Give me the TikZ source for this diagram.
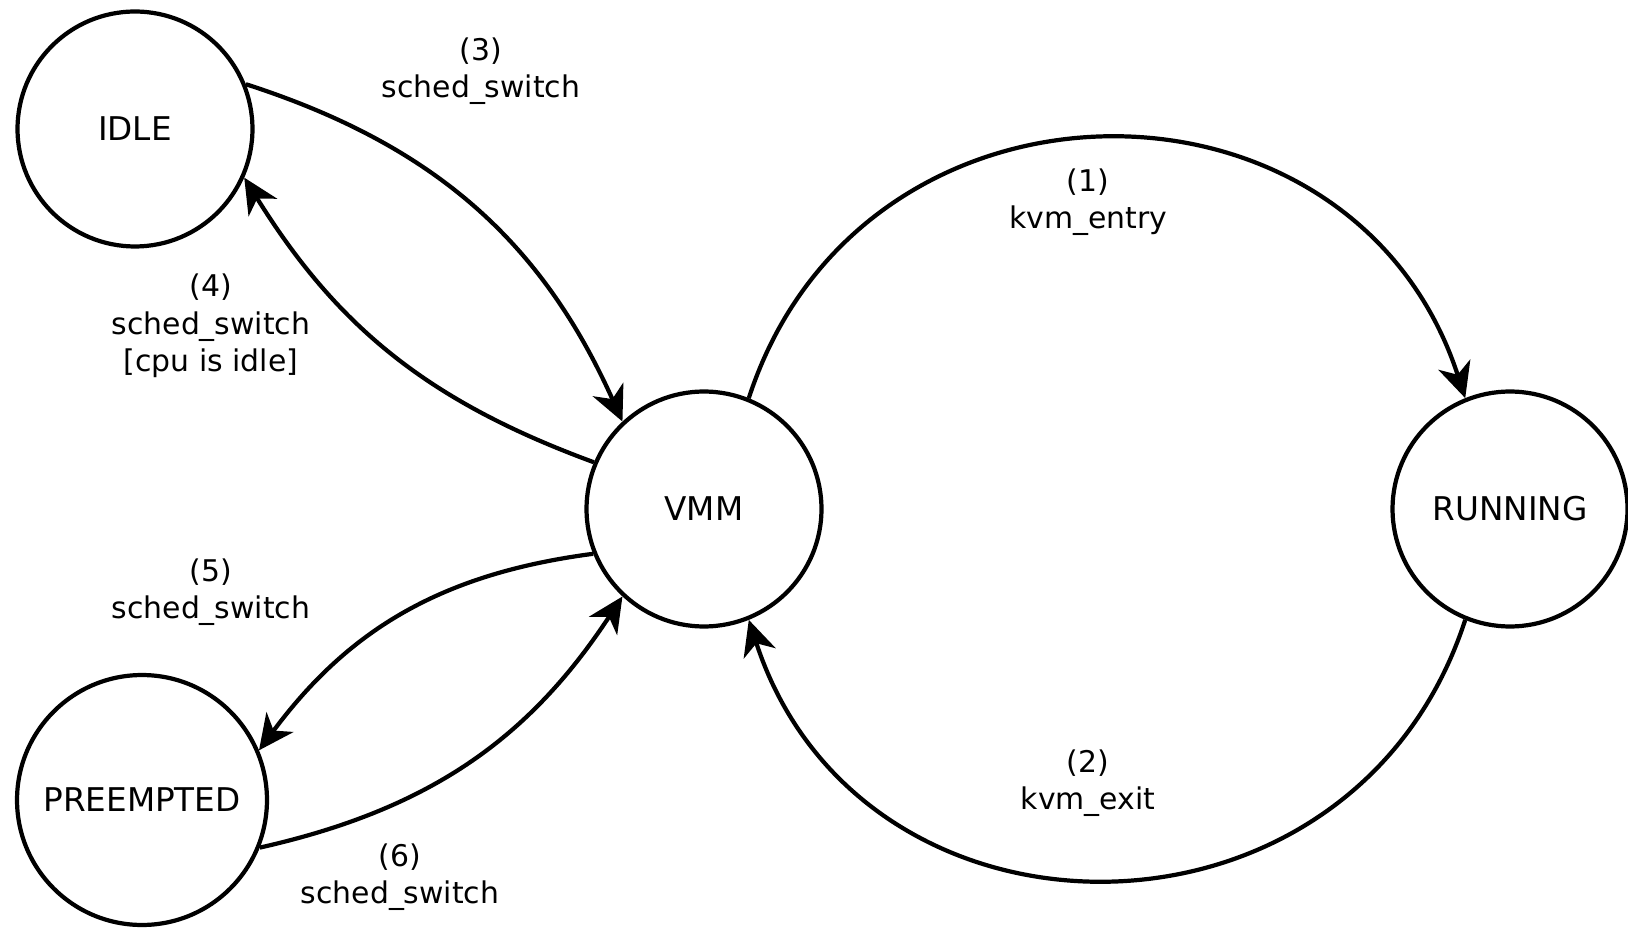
\documentclass[tikz,border=0pt]{standalone}
\usepackage{fontspec}
\setmainfont{DejaVu Sans}
\usepackage{tikz}
\usetikzlibrary{arrows.meta}

\begin{document}
\begin{tikzpicture}[x=0.02cm, y=0.02cm,
    state/.style={circle, draw, line width=2.4pt, minimum size=4.7cm, inner sep=0pt, font=\fontsize{18.6}{22}\selectfont},
    arrow/.style={-{Stealth[length=20pt, width=19pt, inset=6pt]}, line width=2.4pt},
    lbl/.style={align=center, font=\fontsize{17}{21.3}\selectfont}
]
\useasboundingbox (0,0) rectangle (1628,-928);

% States
\node[state] (idle) at (135,-129) {IDLE};
\node[state] (vmm) at (704,-509) {VMM};
\node[state] (running) at (1510,-509) {RUNNING};
\node[state, minimum size=5cm] (preempted) at (142,-800) {PREEMPTED};

% Guest entry / exit
\draw[arrow] (vmm.68) to[bend left=72, looseness=1.3] (running.112);
\draw[arrow] (running.248) to[bend left=72, looseness=1.3] (vmm.292);

% Scheduler switches
\draw[arrow] (idle.22) to[bend left=24] (vmm.133);
\draw[arrow] (vmm.157) to[bend left=19] (idle.336);
\draw[arrow] (vmm.202) to[bend right=23] (preempted.23);
\draw[arrow] (preempted.338) to[bend right=22] (vmm.227);

% Labels
\node[lbl] (l1) at (1088,-202) {(1)\\kvm\_entry};
\node[lbl] (l2) at (1088,-783) {(2)\\kvm\_exit};
\node[lbl] (l3) at (481,-71) {(3)\\sched\_switch};
\node[lbl] (l4) at (211,-326) {(4)\\sched\_switch\\{}[cpu is idle]};
\node[lbl] (l5) at (211,-592) {(5)\\sched\_switch};
\node[lbl] (l6) at (400,-877) {(6)\\sched\_switch};

\end{tikzpicture}
\end{document}
